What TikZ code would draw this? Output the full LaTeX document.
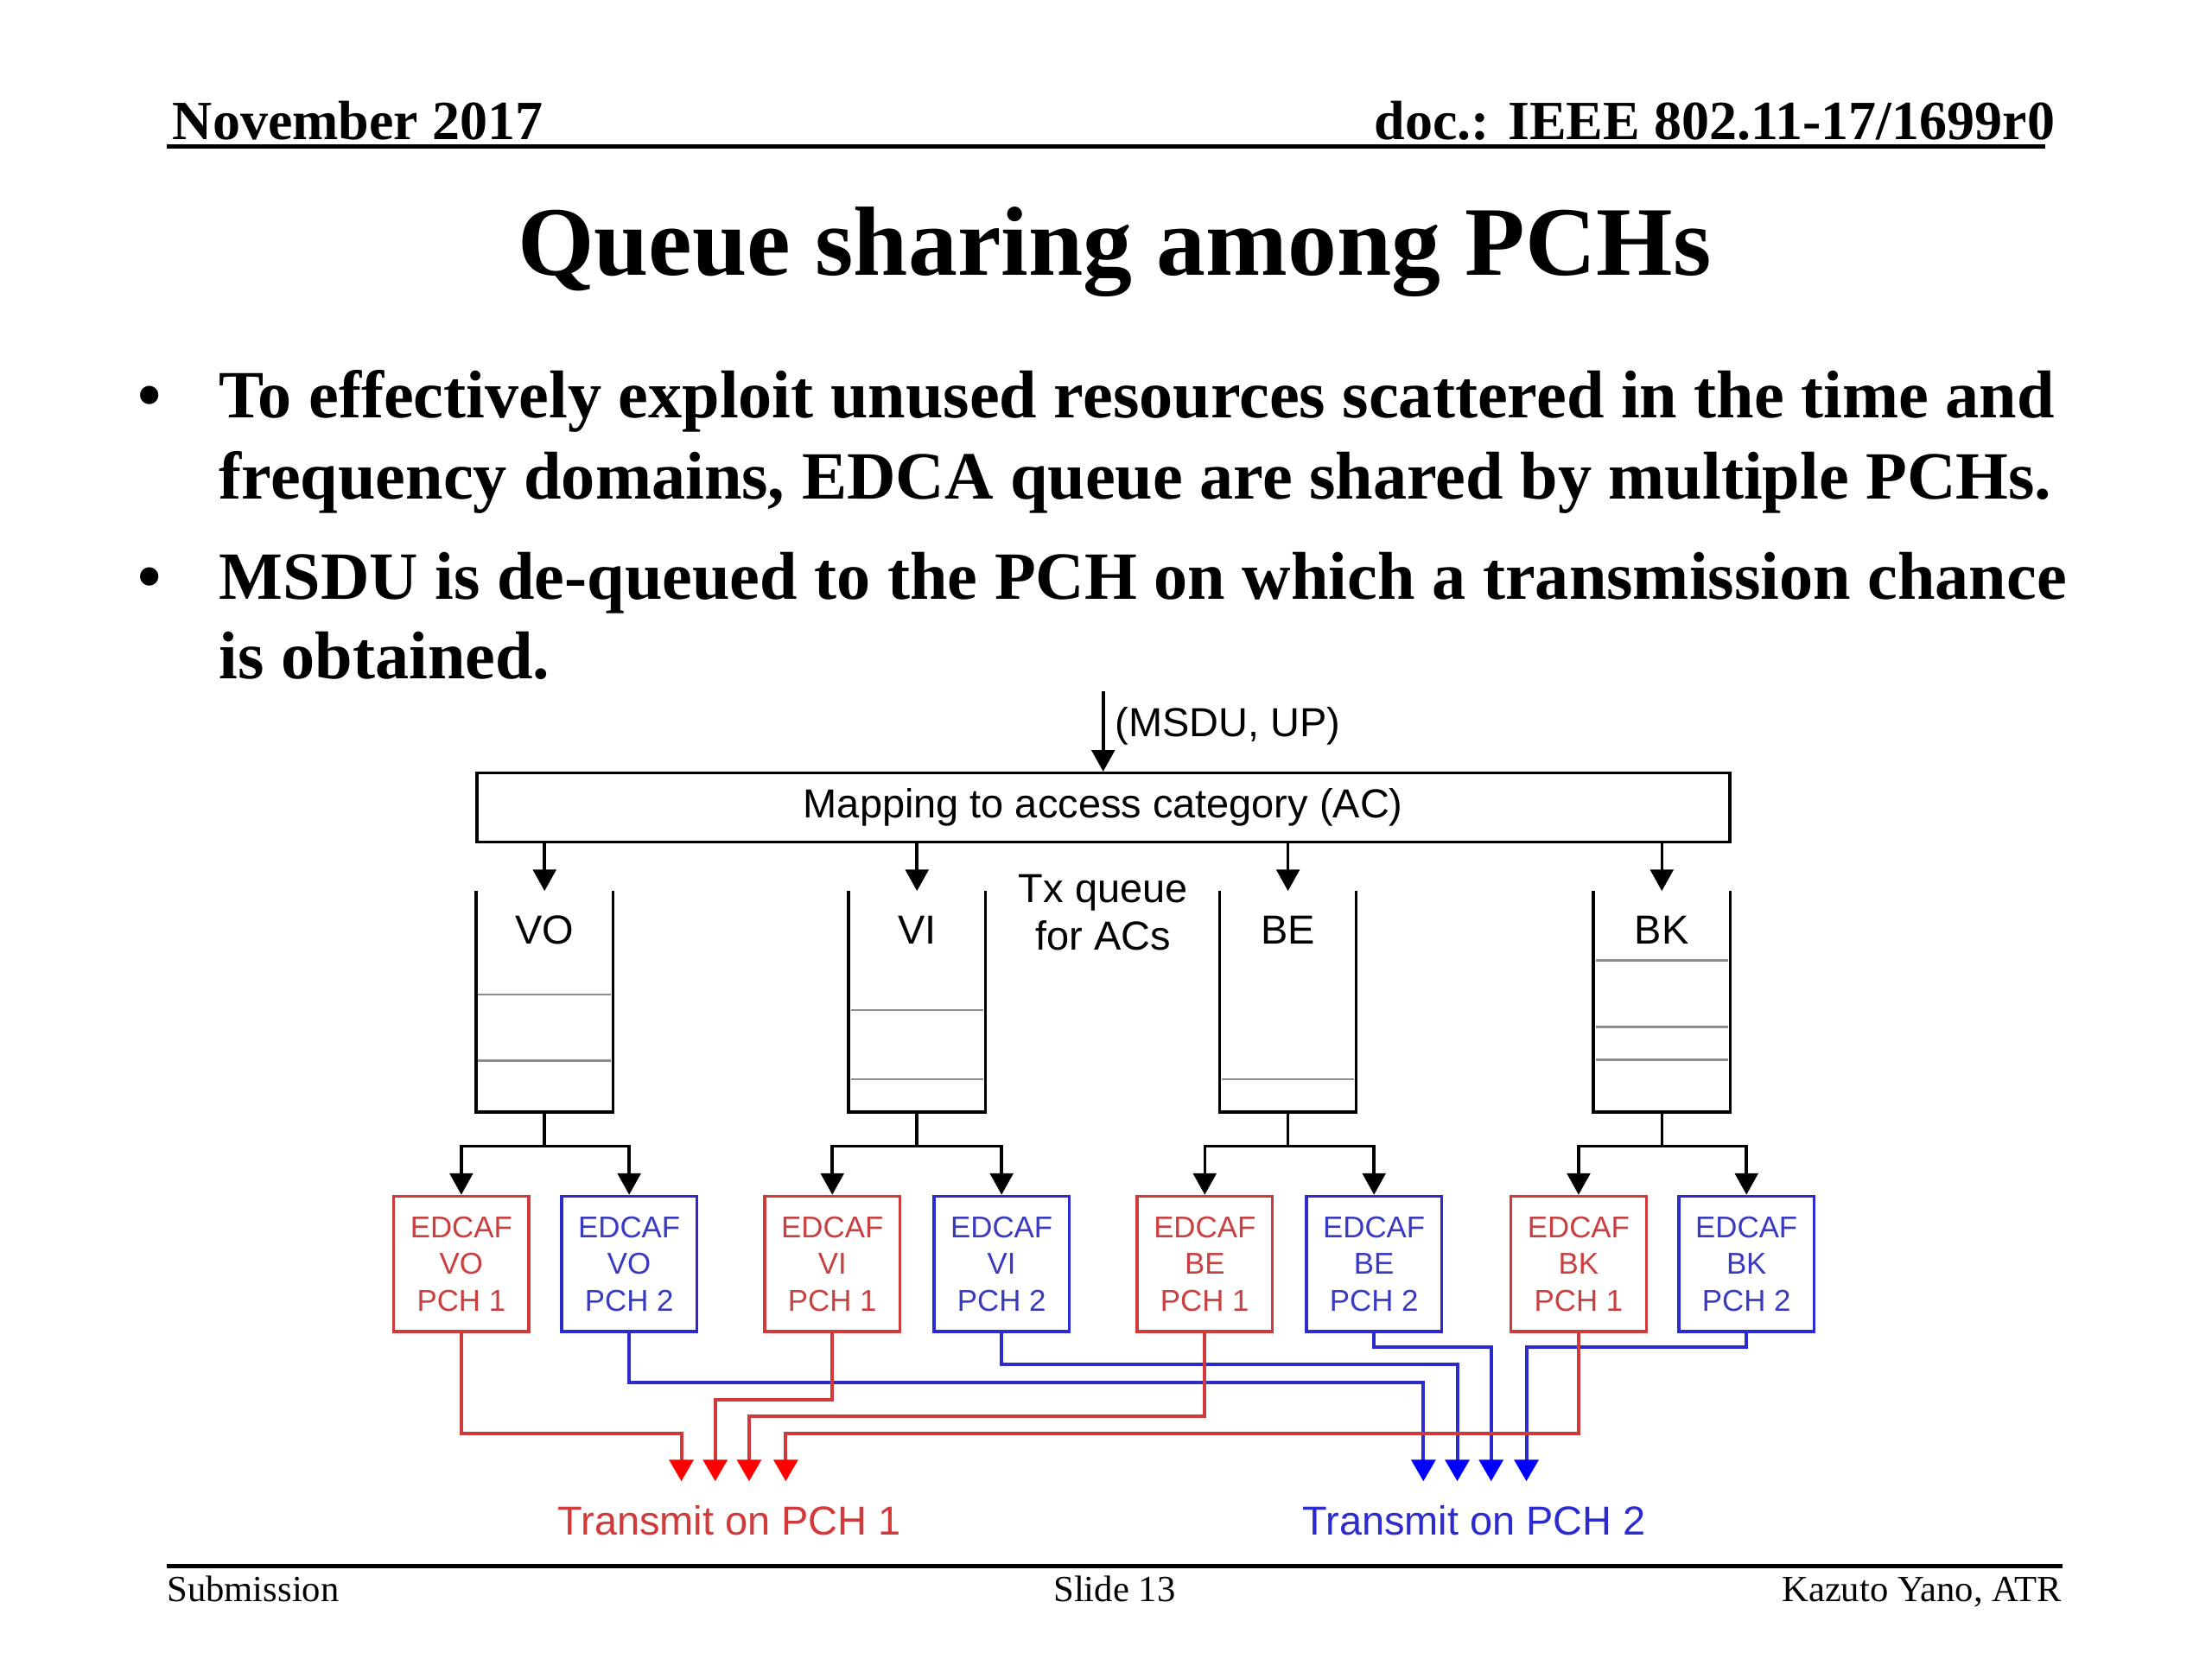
\documentclass[tikz,border=0pt]{standalone}
\usepackage{fontspec}
\setmainfont{Liberation Serif}
\setsansfont{Liberation Sans}
\usetikzlibrary{arrows.meta}
\definecolor{rline}{HTML}{D03A3A}
\definecolor{rtext}{HTML}{C84040}
\definecolor{bline}{HTML}{2B2BCF}
\definecolor{btext}{HTML}{3A3AC0}
\definecolor{qgray}{HTML}{8C8C8C}
\begin{document}
\begin{tikzpicture}[x=0.45918pt,y=-0.45918pt,
  hdr/.style={font=\bfseries\fontsize{18}{20}\selectfont, inner sep=0pt},
  ttl/.style={font=\bfseries\fontsize{32}{36}\selectfont, inner sep=0pt},
  bul/.style={font=\bfseries\fontsize{22}{26}\selectfont, inner sep=0pt, anchor=base west},
  ftr/.style={font=\fontsize{12}{14}\selectfont, inner sep=0pt},
  dg/.style={font=\sffamily\fontsize{13.2}{15.6}\selectfont, inner sep=0pt},
  edc/.style={font=\sffamily\fontsize{9.8}{12}\selectfont, align=center, line width=1pt,
    minimum width=44.08pt, minimum height=44.08pt, inner sep=0pt},
  rbox/.style={edc, draw=rline, text=rtext},
  bbox/.style={edc, draw=bline, text=btext},
  qnode/.style={minimum width=44.08pt, minimum height=71.6pt, inner sep=0pt},
  qline/.style={line width=1pt},
  qsep/.style={line width=0.8pt, draw=qgray},
  blk/.style={line width=1pt, -{Triangle[width=7.5pt,length=7pt]}},
  rw/.style={line width=1.1pt, draw=rline, -{Triangle[width=7.8pt,length=7pt,color=red,fill=red]}},
  bw/.style={line width=1.1pt, draw=bline, -{Triangle[width=7.8pt,length=7pt,color=blue,fill=blue]}},
]
\useasboundingbox (0,0) rectangle (1568,1176);

% header
\node[hdr, anchor=base west] (hl) at (122,99) {November 2017};
\node[hdr, anchor=base east] (hr) at (1457,99) {doc.: IEEE 802.11-17/1699r0};
\coordinate (hla) at (118,104);
\coordinate (hlb) at (1450,104);
\draw[line width=1.4pt] (hla) -- (hlb);

% title
\node[ttl, anchor=base] (title) at (790,195) {Queue sharing among PCHs};

% bullets
\node[bul] (b1) at (97,296) {•};
\node[bul] (l1) at (155,296) {To effectively exploit unused resources scattered in the time and};
\node[bul] (l2) at (155,354) {frequency domains, EDCA queue are shared by multiple PCHs.};
\node[bul] (b2) at (97,425) {•};
\node[bul] (l3) at (155,425) {MSDU is de-queued to the PCH on which a transmission chance};
\node[bul] (l4) at (155,481) {is obtained.};

% mapping box
\node[dg, draw, line width=1pt, minimum width=407.8pt, minimum height=22.5pt] (map) at (782,572.5) {Mapping to access category (AC)};
\coordinate (msdu) at (782,490);
\draw[blk] (msdu) -- (map.north);
\node[dg, anchor=west] (msdul) at (790,515) {(MSDU, UP)};

% queues
\node[qnode] (qvo) at (386,710) {};
\node[qnode] (qvi) at (650,710) {};
\node[qnode] (qbe) at (913,710) {};
\node[qnode] (qbk) at (1178,710) {};
\foreach \q in {qvo,qvi,qbe,qbk}{
  \draw[qline] (\q.north west) -- (\q.south west) -- (\q.south east) -- (\q.north east);
  \draw[blk] (map.south -| \q.north) -- (\q.north);
}
\node[dg] (lvo) at (386,659) {VO};
\node[dg] (lvi) at (650,659) {VI};
\node[dg] (lbe) at (913,659) {BE};
\node[dg] (lbk) at (1178,659) {BK};
\node[dg, align=center] (txq) at (782,647) {Tx queue\\for ACs};
\draw[qsep] (339,705) -- (433,705);
\draw[qsep] (339,752) -- (433,752);
\draw[qsep] (603,716) -- (697,716);
\draw[qsep] (603,765) -- (697,765);
\draw[qsep] (866,765) -- (960,765);
\draw[qsep] (1131,681) -- (1225,681);
\draw[qsep] (1131,728) -- (1225,728);
\draw[qsep] (1131,751) -- (1225,751);

% EDCAF boxes
\node[rbox] (vo1) at (327,896) {EDCAF\\VO\\PCH 1};
\node[bbox] (vo2) at (446,896) {EDCAF\\VO\\PCH 2};
\node[rbox] (vi1) at (590,896) {EDCAF\\VI\\PCH 1};
\node[bbox] (vi2) at (710,896) {EDCAF\\VI\\PCH 2};
\node[rbox] (be1) at (854,896) {EDCAF\\BE\\PCH 1};
\node[bbox] (be2) at (974,896) {EDCAF\\BE\\PCH 2};
\node[rbox] (bk1) at (1119,896) {EDCAF\\BK\\PCH 1};
\node[bbox] (bk2) at (1238,896) {EDCAF\\BK\\PCH 2};

% queue -> EDCAF
\draw[blk] (qvo.south) -- ++(0,24) -| (vo1.north);
\draw[blk] (qvo.south) -- ++(0,24) -| (vo2.north);
\draw[blk] (qvi.south) -- ++(0,24) -| (vi1.north);
\draw[blk] (qvi.south) -- ++(0,24) -| (vi2.north);
\draw[blk] (qbe.south) -- ++(0,24) -| (be1.north);
\draw[blk] (qbe.south) -- ++(0,24) -| (be2.north);
\draw[blk] (qbk.south) -- ++(0,24) -| (bk1.north);
\draw[blk] (qbk.south) -- ++(0,24) -| (bk2.north);

% targets
\coordinate (t1a) at (483,1050);
\coordinate (t1b) at (507,1050);
\coordinate (t1c) at (531,1050);
\coordinate (t1d) at (557,1050);
\coordinate (t2a) at (1009,1050);
\coordinate (t2b) at (1033,1050);
\coordinate (t2c) at (1057,1050);
\coordinate (t2d) at (1082,1050);

% blue wires
\draw[bw] (vo2.south) |- (1009,980) -- (t2a);
\draw[bw] (vi2.south) |- (1033,967) -- (t2b);
\draw[bw] (be2.south) |- (1057,955) -- (t2c);
\draw[bw] (bk2.south) |- (1082,955) -- (t2d);
% red wires
\draw[rw] (vo1.south) |- (483,1016) -- (t1a);
\draw[rw] (vi1.south) |- (507,992) -- (t1b);
\draw[rw] (be1.south) |- (531,1004) -- (t1c);
\draw[rw] (bk1.south) |- (557,1016) -- (t1d);

\node[dg, text=rline] (tx1) at (517,1078) {Transmit on PCH 1};
\node[dg, text=bline] (tx2) at (1045,1078) {Transmit on PCH 2};

% footer
\coordinate (fla) at (118,1110);
\coordinate (flb) at (1462,1110);
\draw[line width=1.4pt] (fla) -- (flb);
\node[ftr, anchor=base west] (f1) at (118,1135) {Submission};
\node[ftr, anchor=base] (f2) at (790,1135) {Slide 13};
\node[ftr, anchor=base east] (f3) at (1462,1135) {Kazuto Yano, ATR};
\end{tikzpicture}
\end{document}
